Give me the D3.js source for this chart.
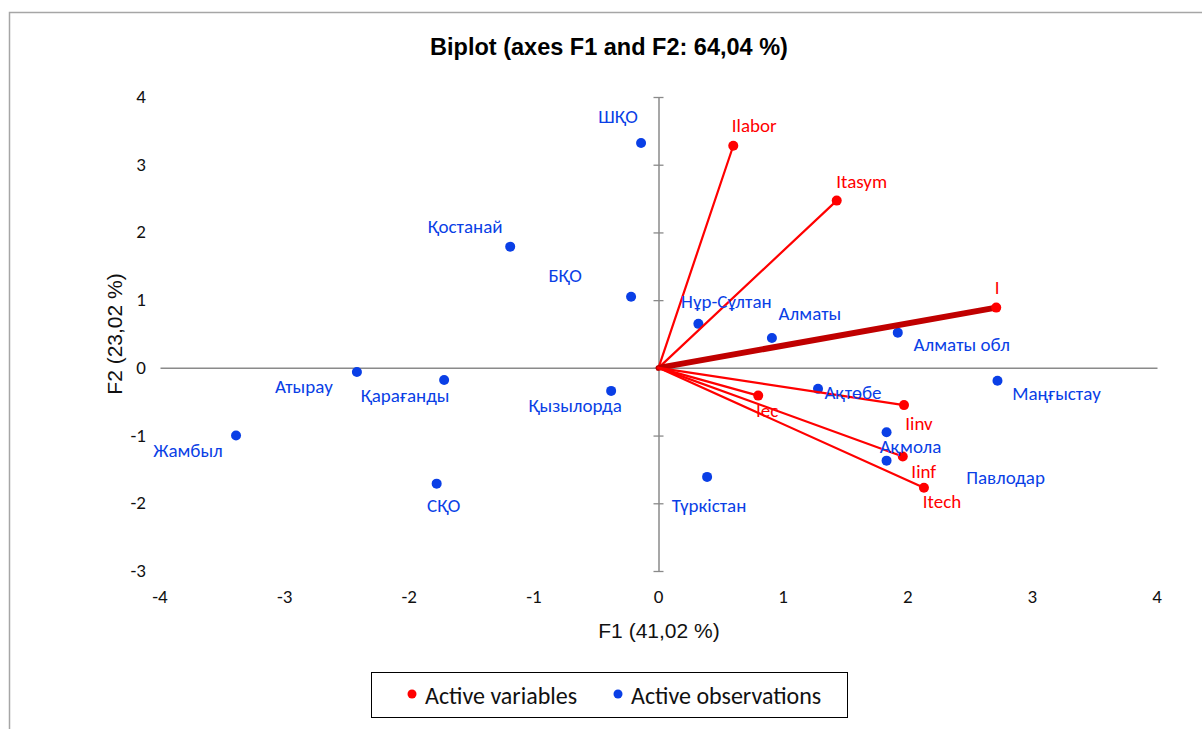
<!DOCTYPE html>
<html>
<head>
<meta charset="utf-8">
<script src="https://cdn.jsdelivr.net/npm/d3@7"></script>
<style>
  html, body { margin: 0; padding: 0; background: #fff; }
  svg { display: block; }
</style>
</head>
<body>
<svg id="chart" width="1202" height="729"></svg>
<script>
// ---- Data ----
const obsNames = ["ШҚО","Қостанай","БҚО","Нұр-Сұлтан","Алматы","Алматы обл","Атырау","Қарағанды","Қызылорда","Жамбыл","СҚО","Түркістан","Ақтөбе","Маңғыстау","Ақмола","Павлодар"];
const obsF1 = [-0.14,-1.19,-0.22,0.32,0.91,1.92,-2.42,-1.72,-0.38,-3.39,-1.78,0.39,1.28,2.72,1.83,1.83];
const obsF2 = [3.32,1.79,1.05,0.65,0.44,0.52,-0.06,-0.18,-0.34,-1.00,-1.71,-1.61,-0.31,-0.19,-0.95,-1.37];

const varNames = ["Ilabor","Itasym","I","Iec","Iinv","Iinf","Itech"];
const varF1 = [0.60,1.43,2.71,0.80,1.97,1.96,2.13];
const varF2 = [3.28,2.47,0.89,-0.41,-0.55,-1.31,-1.77];

const xTicks = [-4,-3,-2,-1,0,1,2,3,4];
const yTicks = [-3,-2,-1,0,1,2,3,4];

const title = "Biplot (axes F1 and F2: 64,04 %)";
const xTitle = "F1 (41,02 %)";
const yTitle = "F2 (23,02 %)";
const legendLabels = ["Active variables","Active observations"];

// ---- Layout (label offsets in px, relative to the point) ----
const obsLabelOffset = {
  "ШҚО":[-23,-27],"Қостанай":[-45,-20],"БҚО":[-66,-21],"Нұр-Сұлтан":[28,-22],
  "Алматы":[38,-25],"Алматы обл":[64,12],"Атырау":[-53,15],"Қарағанды":[-39,15],
  "Қызылорда":[-36,15],"Жамбыл":[-48,15],"СҚО":[7,22],"Түркістан":[2,29],
  "Ақтөбе":[35,4],"Маңғыстау":[59,13],"Ақмола":[24,14],"Павлодар":[119,17]
};
const varLabelOffset = {
  "Ilabor":[21,-20],"Itasym":[25,-19],"I":[1,-20],"Iec":[9,15],
  "Iinv":[15,18],"Iinf":[21,15],"Itech":[18,14]
};

const BLUE = "#0a3fe6";
const RED = "#ff0000";
const DARKRED = "#c00000";
const AXIS = "#8a8a8a";
const labelFont = "Carlito, Calibri, 'Open Sans', 'Noto Sans', sans-serif";
const arialFont = "'Liberation Sans', Arial, sans-serif";

const svg = d3.select("#chart");

// outer border (partial frame like original)
svg.append("path")
  .attr("d", "M9.5,729 L9.5,12.5 L1202,12.5")
  .attr("fill", "none").attr("stroke", "#a6a6a6").attr("stroke-width", 1.5);

const x = d3.scaleLinear().domain([-4, 4]).range([160, 1157]);
const y = d3.scaleLinear().domain([-3, 4]).range([571, 97]);

// title
svg.append("text")
  .attr("x", 609).attr("y", 55)
  .attr("text-anchor", "middle")
  .attr("font-family", arialFont)
  .attr("font-weight", "bold").attr("font-size", 23.5)
  .attr("fill", "#000")
  .text(title);

// horizontal axis line at y=0
const gx = svg.append("g").attr("transform", `translate(0,${y(0)})`)
  .call(d3.axisBottom(x).tickValues(xTicks).tickSize(0).tickFormat(""));
gx.select(".domain").attr("stroke", AXIS).attr("stroke-width", 1.5);

// vertical axis line at x=0 with cross ticks
const gy = svg.append("g").attr("transform", `translate(${x(0)},0)`)
  .call(d3.axisLeft(y).tickValues(yTicks).tickSizeInner(5).tickSizeOuter(0).tickFormat(""));
gy.select(".domain").attr("stroke", AXIS).attr("stroke-width", 1.5);
gy.selectAll(".tick line").attr("stroke", AXIS).attr("stroke-width", 1.3).attr("x1", 5).attr("x2", -5);

// tick labels on the frame edges
svg.append("g").selectAll("text").data(xTicks).join("text")
  .attr("x", d => x(d)).attr("y", 603)
  .attr("text-anchor", "middle")
  .attr("font-family", labelFont).attr("font-size", 19).attr("fill", "#111")
  .text(d => String(d));

svg.append("g").selectAll("text").data(yTicks).join("text")
  .attr("x", 146).attr("y", d => y(d) + 6)
  .attr("text-anchor", "end")
  .attr("font-family", labelFont).attr("font-size", 19).attr("fill", "#111")
  .text(d => String(d));

// axis titles
svg.append("text")
  .attr("x", 659).attr("y", 638)
  .attr("text-anchor", "middle")
  .attr("font-family", arialFont)
  .attr("font-size", 21).attr("fill", "#111")
  .text(xTitle);

svg.append("text")
  .attr("transform", `translate(122,334) rotate(-90)`)
  .attr("text-anchor", "middle")
  .attr("font-family", arialFont)
  .attr("font-size", 21).attr("fill", "#111")
  .text(yTitle);

const vars = varNames.map((n, i) => ({ name: n, f1: varF1[i], f2: varF2[i] }));
const obs = obsNames.map((n, i) => ({ name: n, f1: obsF1[i], f2: obsF2[i] }));

// observations
const gObs = svg.append("g");
gObs.selectAll("circle").data(obs).join("circle")
  .attr("cx", d => x(d.f1)).attr("cy", d => y(d.f2)).attr("r", 5)
  .attr("fill", BLUE);

// variable vectors
const gVar = svg.append("g");
gVar.selectAll("line").data(vars).join("line")
  .attr("x1", x(0)).attr("y1", y(0))
  .attr("x2", d => x(d.f1)).attr("y2", d => y(d.f2))
  .attr("stroke", d => d.name === "I" ? DARKRED : RED)
  .attr("stroke-width", d => d.name === "I" ? 6 : 2.2)
  .attr("stroke-linecap", "round");
gVar.selectAll("circle").data(vars).join("circle")
  .attr("cx", d => x(d.f1)).attr("cy", d => y(d.f2)).attr("r", 5)
  .attr("fill", RED);

// labels
svg.append("g").selectAll("text").data(obs).join("text")
  .attr("x", d => x(d.f1) + obsLabelOffset[d.name][0])
  .attr("y", d => y(d.f2) + obsLabelOffset[d.name][1])
  .attr("text-anchor", "middle").attr("dominant-baseline", "central")
  .attr("font-family", labelFont).attr("font-size", 19).attr("fill", BLUE)
  .text(d => d.name);

svg.append("g").selectAll("text").data(vars).join("text")
  .attr("x", d => x(d.f1) + varLabelOffset[d.name][0])
  .attr("y", d => y(d.f2) + varLabelOffset[d.name][1])
  .attr("text-anchor", "middle").attr("dominant-baseline", "central")
  .attr("font-family", labelFont).attr("font-size", 19).attr("fill", RED)
  .text(d => d.name);

// legend
const lg = svg.append("g");
lg.append("rect").attr("x", 371.5).attr("y", 672.5).attr("width", 476).attr("height", 45)
  .attr("fill", "#fff").attr("stroke", "#000").attr("stroke-width", 1);
const legendItems = [
  { label: legendLabels[0], color: RED, cx: 412, tx: 425 },
  { label: legendLabels[1], color: BLUE, cx: 618, tx: 631 }
];
lg.selectAll("circle").data(legendItems).join("circle")
  .attr("cx", d => d.cx).attr("cy", 694).attr("r", 4.5).attr("fill", d => d.color);
lg.selectAll("text").data(legendItems).join("text")
  .attr("x", d => d.tx).attr("y", 695).attr("dominant-baseline", "central")
  .attr("font-family", labelFont).attr("font-size", 24).attr("fill", "#111")
  .text(d => d.label);
</script>
</body>
</html>
